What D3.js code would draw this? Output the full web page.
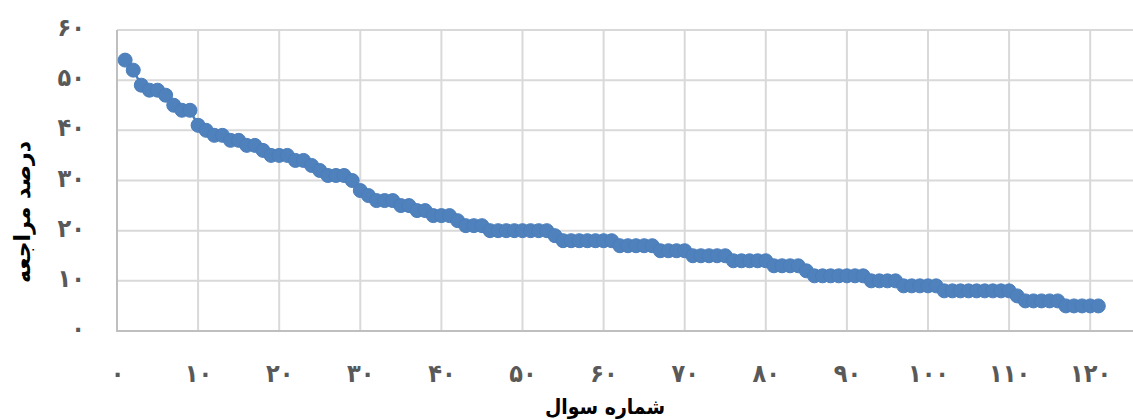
<!DOCTYPE html>
<html>
<head>
<meta charset="utf-8">
<script src="https://cdn.jsdelivr.net/npm/d3@7"></script>
<style>
  body { margin: 0; background: #fff; }
  svg { display: block; }
  .grid line { stroke: #d9d9d9; stroke-width: 2; }
  .tick text { fill: #595959; font-family: "DejaVu Sans Condensed", "DejaVu Sans", sans-serif; font-weight: bold; font-size: 25px; }
  .title { font-family: "DejaVu Sans", sans-serif; font-weight: bold; fill: #000; }
</style>
</head>
<body>
<div id="chart"></div>
<script>
var w = 1133, h = 420;

// question number on x, percent on y
var questions = [];
var percents = [
  54, 52, 49, 48, 48, 47, 45, 44, 44, 41,
  40, 39, 39, 38, 38, 37, 37, 36, 35, 35,
  35, 34, 34, 33, 32, 31, 31, 31, 30, 28,
  27, 26, 26, 26, 25, 25, 24, 24, 23, 23,
  23, 22, 21, 21, 21, 20, 20, 20, 20, 20,
  20, 20, 20, 19, 18, 18, 18, 18, 18, 18,
  18, 17, 17, 17, 17, 17, 16, 16, 16, 16,
  15, 15, 15, 15, 15, 14, 14, 14, 14, 14,
  13, 13, 13, 13, 12, 11, 11, 11, 11, 11,
  11, 11, 10, 10, 10, 10, 9, 9, 9, 9,
  9, 8, 8, 8, 8, 8, 8, 8, 8, 8,
  7, 6, 6, 6, 6, 6, 5, 5, 5, 5,
  5
];
for (var i = 0; i < percents.length; i++) questions.push(i + 1);

var xTicks = [0, 10, 20, 30, 40, 50, 60, 70, 80, 90, 100, 110, 120];
var yTicks = [0, 10, 20, 30, 40, 50, 60];
var xTitle = "شماره سوال";
var yTitle = "درصد مراجعه";

var faDigits = "۰۱۲۳۴۵۶۷۸۹";
var toFa = function(d) {
  return String(d).replace(/\d/g, function(c) { return faDigits[+c]; });
};

var plotLeft = 117, plotTop = 30, plotBottom = 331;

var x = d3.scaleLinear().domain([0, 125]).range([plotLeft, plotLeft + 81.1 * 12.5]);
var y = d3.scaleLinear().domain([0, 60]).range([plotBottom, plotTop]);

var svg = d3.select("#chart").append("svg").attr("width", w).attr("height", h);

// horizontal gridlines
svg.append("g").attr("class", "grid")
  .selectAll("line").data(yTicks.slice(1)).enter().append("line")
  .attr("x1", plotLeft).attr("x2", w)
  .attr("y1", function(d) { return y(d); }).attr("y2", function(d) { return y(d); });

// vertical gridlines
svg.append("g").attr("class", "grid")
  .selectAll("line").data(xTicks.slice(1)).enter().append("line")
  .attr("x1", function(d) { return x(d); }).attr("x2", function(d) { return x(d); })
  .attr("y1", plotTop).attr("y2", plotBottom);

// axis lines
svg.append("line").attr("x1", plotLeft).attr("x2", plotLeft).attr("y1", plotTop).attr("y2", plotBottom + 1)
  .attr("stroke", "#bfbfbf").attr("stroke-width", 2);
svg.append("line").attr("x1", plotLeft - 1).attr("x2", w).attr("y1", plotBottom).attr("y2", plotBottom)
  .attr("stroke", "#bfbfbf").attr("stroke-width", 2);

// tick labels via d3 axes
var xAxis = svg.append("g").attr("transform", "translate(0," + plotBottom + ")")
  .call(d3.axisBottom(x).tickValues(xTicks).tickFormat(toFa).tickSize(0).tickPadding(33));
xAxis.select(".domain").remove();

var yAxis = svg.append("g").attr("transform", "translate(" + (plotLeft - 32) + ",0)")
  .call(d3.axisLeft(y).tickValues(yTicks).tickFormat(toFa).tickSize(0).tickPadding(0));
yAxis.select(".domain").remove();
yAxis.selectAll(".tick text").attr("dy", "0.22em");

// series
var pts = questions.map(function(q, i) { return { q: q, p: percents[i] }; });

svg.append("path").datum(pts)
  .attr("fill", "none").attr("stroke", "#4f81bd").attr("stroke-width", 2.5)
  .attr("d", d3.line().x(function(d) { return x(d.q); }).y(function(d) { return y(d.p); }));

svg.selectAll(".dot").data(pts).enter().append("circle")
  .attr("class", "dot")
  .attr("cx", function(d) { return x(d.q); })
  .attr("cy", function(d) { return y(d.p); })
  .attr("r", 7)
  .attr("fill", "#4f81bd")
  .attr("stroke", "#4a7ebb").attr("stroke-width", 1);

// titles
svg.append("text").attr("class", "title")
  .attr("x", 605).attr("y", 414).attr("text-anchor", "middle")
  .style("font-family", "'DejaVu Sans Condensed', 'DejaVu Sans', sans-serif")
  .style("font-size", "21px")
  .text(xTitle);

svg.append("text").attr("class", "title")
  .attr("transform", "translate(30,212) rotate(-90)")
  .attr("text-anchor", "middle")
  .style("font-size", "22px")
  .text(yTitle);
</script>
</body>
</html>
